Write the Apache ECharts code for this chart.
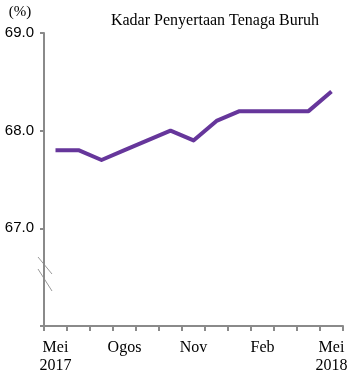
<!DOCTYPE html>
<html>
<head>
<meta charset="utf-8">
<script src="https://cdn.jsdelivr.net/npm/echarts@6/dist/echarts.min.js"></script>
<style>
    html, body { margin: 0; padding: 0; background: #fff; }
    #chart { width: 352px; height: 376px; }
</style>
</head>
<body>
<div id="chart"></div>
<script>
// bulan Mei 2017 - Mei 2018
const months = ['Mei\n2017', 'Jun', 'Jul', 'Ogos', 'Sep', 'Okt', 'Nov', 'Dis', 'Jan', 'Feb', 'Mac', 'Apr', 'Mei\n2018'];
const kadar = [67.8, 67.8, 67.7, 67.8, 67.9, 68.0, 67.9, 68.1, 68.2, 68.2, 68.2, 68.2, 68.4];
const yTicks = [66, 67, 68, 69];

const font = '"Liberation Serif", "Times New Roman", serif';
const sans = '"Liberation Sans", Arial, sans-serif';
const axisGrey = '#8a8a8a';

let myChart = echarts.init(document.getElementById('chart'));

let option = {
    animation: false,
    title: {
        text: 'Kadar Penyertaan Tenaga Buruh',
        left: 210,
        top: 8,
        textAlign: 'center',
        textStyle: { fontFamily: font, fontSize: 16, fontWeight: 'normal', color: '#000' }
    },
    grid: { left: 44, right: 9, top: 33, bottom: 50 },
    xAxis: {
        type: 'category',
        boundaryGap: true,
        data: months,
        axisLine: { lineStyle: { color: axisGrey, width: 2 } },
        axisTick: { show: true, interval: 0, length: 5, lineStyle: { color: axisGrey, width: 2 } },
        axisLabel: {
            interval: 2,
            margin: 13,
            lineHeight: 18,
            fontFamily: font,
            fontSize: 16,
            color: '#000'
        },
        splitLine: { show: false }
    },
    yAxis: {
        type: 'value',
        min: yTicks[0],
        max: yTicks[yTicks.length - 1],
        interval: 1,
        name: '(%)',
        nameLocation: 'end',
        nameGap: 13,
        nameTextStyle: { fontFamily: font, fontSize: 15, color: '#000', align: 'center', padding: [0, 0, 0, -48] },
        axisLine: { show: true, lineStyle: { color: axisGrey, width: 2 } },
        axisTick: { show: true, inside: false, length: 4, lineStyle: { color: axisGrey, width: 2 } },
        axisLabel: {
            margin: 10,
            fontFamily: sans,
            fontSize: 15,
            color: '#000',
            formatter: v => (v === yTicks[0] ? '' : v.toFixed(1))
        },
        splitLine: { show: false }
    },
    // tanda patah paksi
    graphic: [
        { type: 'line', shape: { x1: 38, y1: 257, x2: 52, y2: 274 }, style: { stroke: '#999', lineWidth: 1 } },
        { type: 'line', shape: { x1: 38, y1: 269, x2: 52, y2: 291 }, style: { stroke: '#999', lineWidth: 1 } }
    ],
    series: [
        {
            name: 'Kadar',
            type: 'line',
            data: kadar,
            symbol: 'none',
            lineStyle: { color: '#66369b', width: 4, join: 'round' },
            itemStyle: { color: '#66369b' }
        }
    ]
};

myChart.setOption(option);
</script>
</body>
</html>
